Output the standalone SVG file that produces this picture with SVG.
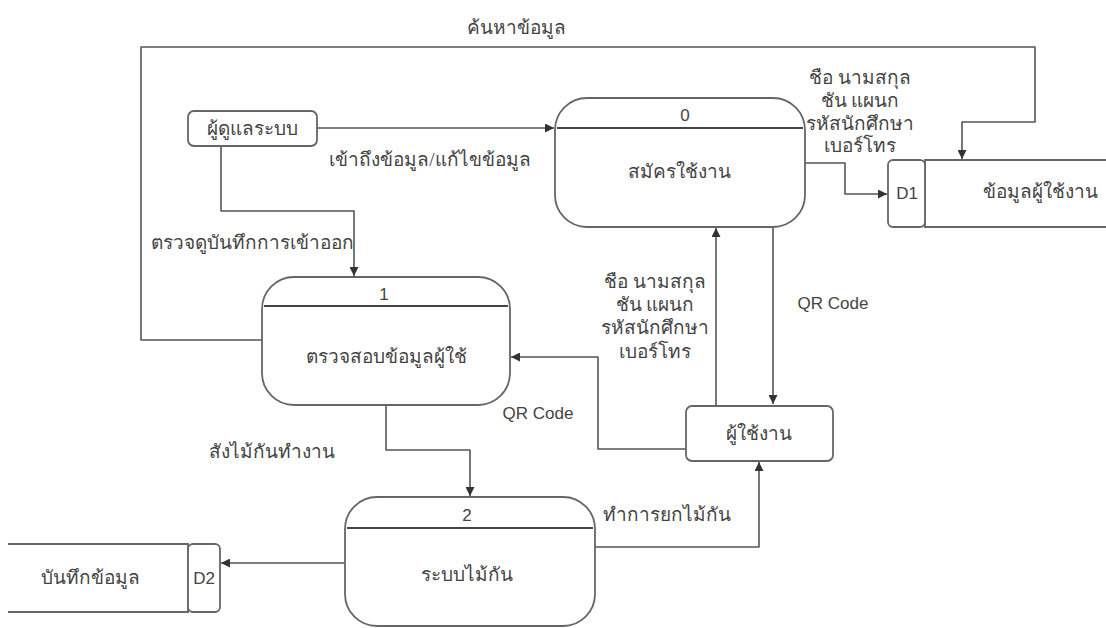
<svg xmlns="http://www.w3.org/2000/svg" width="1106" height="628" viewBox="0 0 1106 628">
<style>
.box{fill:#fff;stroke:#666;stroke-width:1.8}
.div{stroke:#444;stroke-width:2}
.ln{fill:none;stroke:#555;stroke-width:1.6;stroke-linejoin:round}
.arr{fill:none;stroke:#555;stroke-width:1.6;stroke-linejoin:round;marker-end:url(#ah)}
.th{font-family:"Liberation Serif","Noto Sans",serif;font-size:19px;fill:#444;text-anchor:middle}
.en{font-family:"Liberation Sans",Arial,sans-serif;font-size:17px;fill:#444;text-anchor:middle}
</style>
<defs>
<marker id="ah" viewBox="0 0 10 10" refX="10" refY="5" markerWidth="9" markerHeight="9" markerUnits="userSpaceOnUse" orient="auto">
<path d="M0,0 L10,5 L0,10 Z" fill="#333"/>
</marker>
</defs>
<rect width="1106" height="628" fill="#fff"/>

<g id="connectors">
<path class="arr" d="M262,340 H141 V47 H1035 V122 H962 V159"/>
<path class="arr" d="M317,128 H554"/>
<path class="arr" d="M221,146 V211 H354 V276"/>
<path class="arr" d="M805,163 H845 V194 H887"/>
<path class="arr" d="M773,227 V404"/>
<path class="arr" d="M716,406 V228"/>
<path class="arr" d="M686,449 H598 V357 H511"/>
<path class="arr" d="M386,405 V450 H470 V496"/>
<path class="arr" d="M595,547 H759 V462"/>
<path class="arr" d="M345,563 H221"/>
<text class="th" x="516" y="34">ค้นหาข้อมูล</text>
<text class="th" x="430" y="166">เข้าถึงข้อมูล/แก้ไขข้อมูล</text>
<text class="th" x="252" y="249">ตรวจดูบันทึกการเข้าออก</text>
<text class="th" x="860" y="84">ชือ นามสกุล</text>
<text class="th" x="860" y="107">ชัน แผนก</text>
<text class="th" x="860" y="130">รหัสนักศึกษา</text>
<text class="th" x="860" y="152">เบอร์โทร</text>
<text class="th" x="655" y="288">ชือ นามสกุล</text>
<text class="th" x="655" y="311">ชัน แผนก</text>
<text class="th" x="655" y="334">รหัสนักศึกษา</text>
<text class="th" x="655" y="358">เบอร์โทร</text>
<text class="en" x="833" y="309">QR Code</text>
<text class="en" x="538" y="419">QR Code</text>
<text class="th" x="272" y="458">สังไม้กันทำงาน</text>
<text class="th" x="667" y="521">ทำการยกไม้กัน</text>
</g>

<g id="admin">
<rect class="box" x="188" y="111" width="129" height="35" rx="6"/>
<text class="th" x="252" y="135">ผู้ดูแลระบบ</text>
</g>

<g id="process0">
<rect class="box" x="555" y="98" width="250" height="129" rx="32"/>
<line class="div" x1="557" y1="128" x2="803" y2="128"/>
<text class="en" x="685" y="121">0</text>
<text class="th" x="679" y="178">สมัครใช้งาน</text>
</g>

<g id="D1">
<path class="box" d="M1106,160 H925 V227 H1106" fill="#fff"/>
<rect class="box" x="888" y="160" width="37" height="67" rx="5"/>
<text class="en" x="907" y="199">D1</text>
<text class="th" x="1040" y="198">ข้อมูลผู้ใช้งาน</text>
</g>

<g id="process1">
<rect class="box" x="262" y="277" width="248" height="128" rx="32"/>
<line class="div" x1="264" y1="306" x2="508" y2="306"/>
<text class="en" x="384" y="300">1</text>
<text class="th" x="386" y="363">ตรวจสอบข้อมูลผู้ใช้</text>
</g>

<g id="user">
<rect class="box" x="686" y="406" width="147" height="55" rx="6"/>
<text class="th" x="759" y="440">ผู้ใช้งาน</text>
</g>

<g id="process2">
<rect class="box" x="345" y="497" width="250" height="129" rx="32"/>
<line class="div" x1="347" y1="528" x2="593" y2="528"/>
<text class="en" x="467" y="521">2</text>
<text class="th" x="467" y="581">ระบบไม้กัน</text>
</g>

<g id="D2">
<path class="box" d="M8,544 H188 V612 H8" fill="#fff"/>
<rect class="box" x="188" y="544" width="32" height="68" rx="5"/>
<text class="en" x="204" y="584">D2</text>
<text class="th" x="90" y="584">บันทึกข้อมูล</text>
</g>
</svg>
